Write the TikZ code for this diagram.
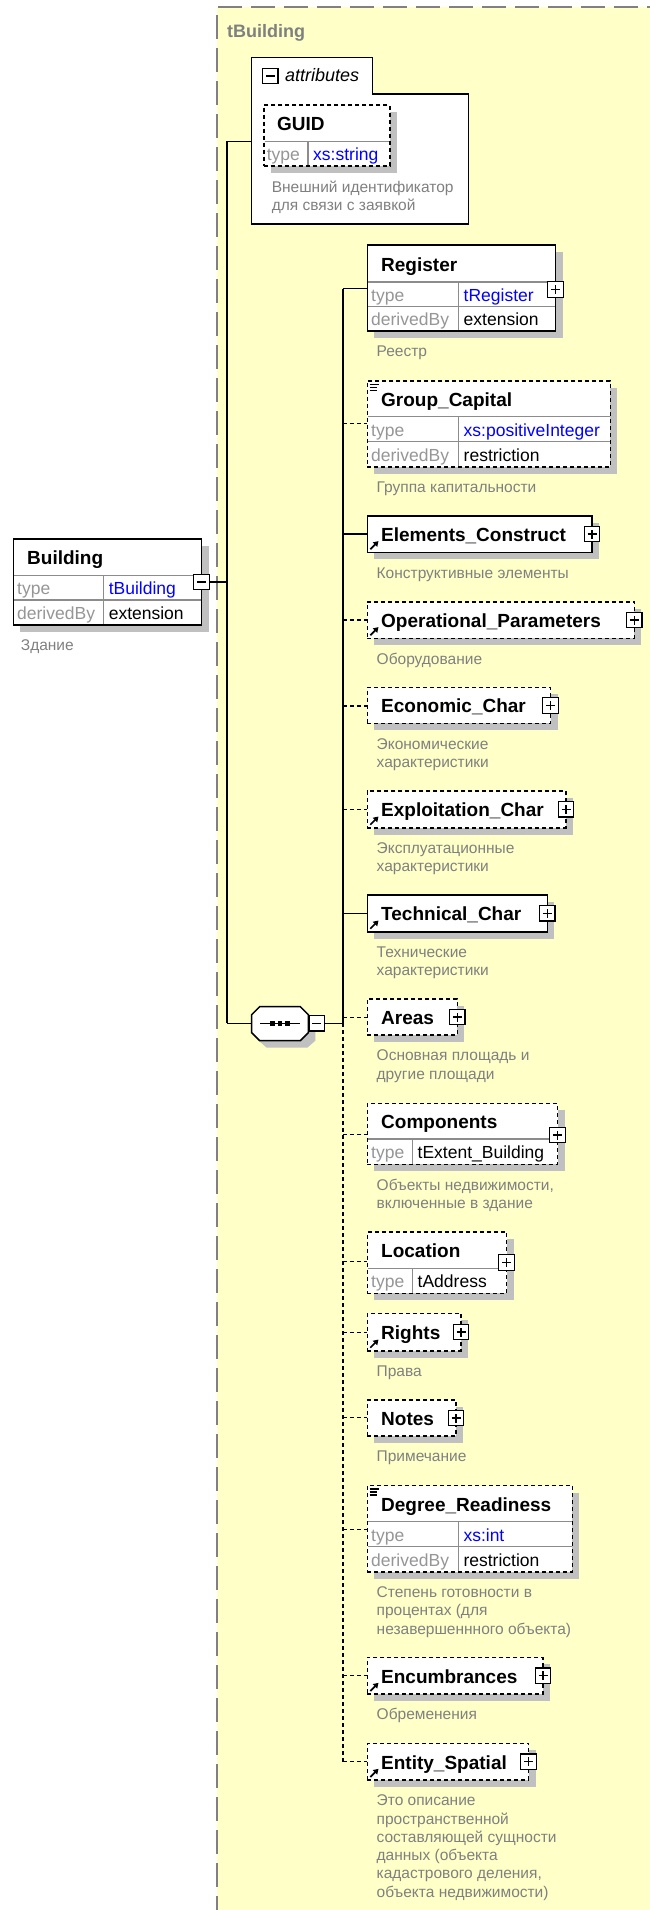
\documentclass[tikz,border=0pt]{standalone}
\usepackage{fontspec}
\setmainfont{Liberation Sans}
\usetikzlibrary{arrows.meta}
\definecolor{bgyellow}{RGB}{255,255,200}
\definecolor{bordergray}{RGB}{128,128,128}
\definecolor{shadowc}{RGB}{192,192,192}
\definecolor{desccol}{RGB}{128,128,128}
\definecolor{labcol}{RGB}{150,150,150}
\definecolor{rowline}{RGB}{140,140,140}
\definecolor{linkblue}{RGB}{0,0,255}
\tikzset{
  elbox/.style={draw=black, fill=white, line width=1.6pt, inner sep=0pt, outer sep=0pt},
  optbox/.style={dash pattern=on 4pt off 3pt},
  conn/.style={line width=1.5pt, draw=black},
  optconn/.style={conn, dash pattern=on 4pt off 3pt},
  nametext/.style={font=\fontsize{19}{22}\selectfont\bfseries, inner sep=0pt, anchor=base west},
  labtext/.style={font=\fontsize{17.5}{20}\selectfont, text=labcol, inner sep=0pt, anchor=base west},
  valtext/.style={font=\fontsize{17.5}{20}\selectfont, inner sep=0pt, anchor=base west},
  desctext/.style={font=\fontsize{15.5}{18.3}\selectfont, text=desccol, inner sep=0pt, anchor=north west, align=left},
  pmbox/.style={draw=black, fill=white, line width=1.2pt, minimum size=15.5pt, inner sep=0pt},
  rowsep/.style={draw=rowline, line width=1.2pt},
  refarrow/.style={line width=1.7pt, -{Triangle[length=5pt,width=6pt]}},
}
\newcommand{\elshadow}[4]{\fill[shadowc] ({#1+7},{#2+7}) rectangle ({#3+7},{#4+7});}
\newcommand{\elrect}[6]{\elshadow{#3}{#4}{#5}{#6}%
  \node[elbox,#2,anchor=north west,minimum width={#5-#3},minimum height={#6-#4}] (#1) at (#3,#4) {};}
\newcommand{\plusbox}[3]{\node[pmbox] (#1) at (#2,#3) {};
  \draw[line width=1.2pt] ([xshift=-4.5pt]#1.center) -- ([xshift=4.5pt]#1.center) ([yshift=-4.5pt]#1.center) -- ([yshift=4.5pt]#1.center);}
\newcommand{\minusbox}[3]{\node[pmbox] (#1) at (#2,#3) {};
  \draw[line width=1.2pt] ([xshift=-4.5pt]#1.center) -- ([xshift=4.5pt]#1.center);}
\newcommand{\refmark}[1]{\draw[refarrow] (370.3,{#1-3}) -- (378.5,{#1-11.2});}
\newcommand{\listmark}[1]{\draw[line width=1.1pt] (369.5,{#1+3.5}) -- (378.5,{#1+3.5}) (369.5,{#1+6.5}) -- (377,{#1+6.5}) (369.5,{#1+9.5}) -- (377,{#1+9.5});}
% description: name, x, baseline of first line, text
\newcommand{\descn}[4]{\node[desctext] (#1) at (#2,{#3-12.81}) {\strut #4};}
\begin{document}
\begin{tikzpicture}[x=1pt,y=-1pt]
\useasboundingbox (0,0) rectangle (650,1910);
% type area
\fill[bgyellow] (216.8,7.3) rectangle (660,1920);
\draw[bordergray, line width=2pt, dash pattern=on 24pt off 9pt] (216.8,1920) -- (216.8,7.3) -- (660,7.3);
\node[font=\fontsize{18}{22}\selectfont\bfseries, text=bordergray, anchor=base west, inner sep=0pt] (tbl) at (227,37.5) {tBuilding};

% spine coordinates
\coordinate (sp1top) at (227.2,141.3);
\coordinate (sp1bot) at (227.2,1023.3);
\coordinate (sp2top) at (342.8,288.7);
\coordinate (sp2mid) at (342.8,1023.3);
\coordinate (sp2bot) at (342.8,1761.7);
\coordinate (attrin) at (251.7,141.3);
\coordinate (octw) at (251.7,1023.3);

% connectors
\draw[conn] (sp1top) -- (sp1bot);
\draw[conn] (sp1top) -- (attrin);
\draw[conn] (sp1bot) -- (octw);
\draw[conn] (sp2top) -- (sp2mid);
\draw[optconn] (sp2mid) -- (sp2bot);
\coordinate (c-reg) at (367.3,288.7);   \draw[conn] (sp2top) -- (c-reg);
\coordinate (c-grp) at (367.3,423.3);   \draw[optconn] (c-grp -| sp2top) -- (c-grp);
\coordinate (c-ele) at (367.3,534);     \draw[conn] (c-ele -| sp2top) -- (c-ele);
\coordinate (c-ope) at (367.3,620);     \draw[optconn] (c-ope -| sp2top) -- (c-ope);
\coordinate (c-eco) at (367.3,706);     \draw[optconn] (c-eco -| sp2top) -- (c-eco);
\coordinate (c-exp) at (367.3,809.5);   \draw[optconn] (c-exp -| sp2top) -- (c-exp);
\coordinate (c-tec) at (367.3,913.3);   \draw[conn] (c-tec -| sp2top) -- (c-tec);
\coordinate (c-are) at (367.3,1017.7);  \draw[optconn] (c-are -| sp2top) -- (c-are);
\coordinate (c-com) at (367.3,1134.3);  \draw[optconn] (c-com -| sp2top) -- (c-com);
\coordinate (c-loc) at (367.3,1261.7);  \draw[optconn] (c-loc -| sp2top) -- (c-loc);
\coordinate (c-rig) at (367.3,1332.3);  \draw[optconn] (c-rig -| sp2top) -- (c-rig);
\coordinate (c-not) at (367.3,1417.7);  \draw[optconn] (c-not -| sp2top) -- (c-not);
\coordinate (c-deg) at (367.3,1529.3);  \draw[optconn] (c-deg -| sp2top) -- (c-deg);
\coordinate (c-enc) at (367.3,1675.7);  \draw[optconn] (c-enc -| sp2top) -- (c-enc);
\coordinate (c-ent) at (367.3,1761.7);  \draw[optconn] (sp2bot) -- (c-ent);

% Building
\elrect{bld}{}{13.3}{539}{201.5}{625}
\draw[rowsep] (14.1,575.3) -- (200.7,575.3) (14.1,600) -- (200.7,600) (103.6,575.3) -- (103.6,624.2);
\node[nametext] (bld-n) at (27,564.7) {Building};
\node[labtext] (bld-l1) at (17,594.7) {type};
\node[valtext,text=linkblue] (bld-v1) at (108.6,594.7) {tBuilding};
\node[labtext] (bld-l2) at (17,619.5) {derivedBy};
\node[valtext] (bld-v2) at (108.6,619.5) {extension};
\minusbox{bldmin}{201.5}{582}
\draw[conn] (bldmin.east) -- (bldmin.east -| sp1top);
\descn{bld-d}{20.7}{650.7}{Здание}

% attributes
\draw[line width=1.5pt, fill=white] (251.7,57.3) -- (372.3,57.3) -- (372.3,94) -- (468.5,94) -- (468.5,224) -- (251.7,224) -- cycle;
\minusbox{attrmin}{270.3}{76}
\node[font=\fontsize{18}{22}\selectfont\itshape, anchor=base west, inner sep=0pt] (attrlbl) at (285,82) {attributes};
\elrect{guid}{optbox}{263.7}{105.3}{389.7}{166}
\draw[rowsep] (264.5,141.3) -- (388.9,141.3) (308,141.3) -- (308,165.2);
\node[nametext] (guid-n) at (277,130.8) {GUID};
\node[labtext] (guid-l1) at (266.6,160.6) {type};
\node[valtext,text=linkblue] (guid-v1) at (313,160.6) {xs:string};
\descn{guid-d}{271.6}{192.3}{Внешний идентификатор\\для связи с заявкой}

% sequence compositor
\fill[shadowc] (266.7,1013.7) -- (308.3,1013.7) -- (315.3,1020.7) -- (315.3,1040.7) -- (307.3,1047.7) -- (266.7,1047.7) -- (258.7,1040.7) -- (258.7,1020.7) -- cycle;
\draw[line width=1.5pt, fill=white] (259.7,1006.7) -- (300.3,1006.7) -- (308.3,1014.7) -- (308.3,1032.7) -- (300.3,1040.7) -- (259.7,1040.7) -- (251.7,1032.7) -- (251.7,1014.7) -- cycle;
\draw[line width=1.2pt] (260,1023.3) -- (300,1023.3);
\foreach \dx in {272.5,280,287.5} \fill (\dx-2.3,1021) rectangle (\dx+2.3,1025.6);
\minusbox{seqmin}{316.7}{1023.3}
\draw[conn] (seqmin.east) -- (sp2mid);

% Register
\elrect{reg}{}{367.3}{245.3}{555.6}{330.7}
\draw[rowsep] (368.1,282) -- (554.8,282) (368.1,306.7) -- (554.8,306.7) (458.5,282) -- (458.5,329.9);
\node[nametext] (reg-n) at (381,271.2) {Register};
\node[labtext] (reg-l1) at (371,301.4) {type};
\node[valtext,text=linkblue] (reg-v1) at (463.5,301.4) {tRegister};
\node[labtext] (reg-l2) at (371,325.7) {derivedBy};
\node[valtext] (reg-v2) at (463.5,325.7) {extension};
\plusbox{reg-p}{555.6}{289.5}
\descn{reg-d}{376.5}{356.2}{Реестр}

% Group_Capital
\elrect{grp}{optbox}{367.3}{380.7}{610.3}{466.7}
\draw[rowsep] (368.1,416.7) -- (609.5,416.7) (368.1,441.7) -- (609.5,441.7) (458.5,416.7) -- (458.5,465.9);
\listmark{380.7}
\node[nametext] (grp-n) at (381,406.2) {Group\_Capital};
\node[labtext] (grp-l1) at (371,436.2) {type};
\node[valtext,text=linkblue] (grp-v1) at (463.5,436.2) {xs:positiveInteger};
\node[labtext] (grp-l2) at (371,461.2) {derivedBy};
\node[valtext] (grp-v2) at (463.5,461.2) {restriction};
\descn{grp-d}{376.5}{492.2}{Группа капитальности}

% Elements_Construct
\elrect{ele}{}{367.3}{515.7}{592}{552.3}
\node[nametext] (ele-n) at (381,541.5) {Elements\_Construct};
\plusbox{ele-p}{592}{534}
\refmark{552.3}
\descn{ele-d}{376.5}{577.8}{Конструктивные элементы}

% Operational_Parameters
\elrect{ope}{optbox}{367.3}{601.7}{634.3}{638.3}
\node[nametext] (ope-n) at (381,627.5) {Operational\_Parameters};
\plusbox{ope-p}{634.3}{620}
\refmark{638.3}
\descn{ope-d}{376.5}{663.8}{Оборудование}

% Economic_Char
\elrect{eco}{optbox}{367.3}{687.3}{550.6}{723.3}
\node[nametext] (eco-n) at (381,712.8) {Economic\_Char};
\plusbox{eco-p}{550.6}{705.5}
\descn{eco-d}{376.5}{748.8}{Экономические\\характеристики}

% Exploitation_Char
\elrect{exp}{optbox}{367.3}{791}{566}{827.7}
\node[nametext] (exp-n) at (381,816.9) {Exploitation\_Char};
\plusbox{exp-p}{566}{809.3}
\refmark{827.7}
\descn{exp-d}{376.5}{853.2}{Эксплуатационные\\характеристики}

% Technical_Char
\elrect{tec}{}{367.3}{895}{547.3}{931.7}
\node[nametext] (tec-n) at (381,920.9) {Technical\_Char};
\plusbox{tec-p}{547.3}{913.3}
\refmark{931.7}
\descn{tec-d}{376.5}{957.2}{Технические\\характеристики}

% Areas
\elrect{are}{optbox}{367.3}{999}{457.3}{1035}
\node[nametext] (are-n) at (381,1024.5) {Areas};
\plusbox{are-p}{457.3}{1017}
\descn{are-d}{376.5}{1060.5}{Основная площадь и\\другие площади}

% Components
\elrect{com}{optbox}{367.3}{1103.3}{557.6}{1164.3}
\draw[rowsep] (368.1,1139) -- (556.8,1139) (412.5,1139) -- (412.5,1163.5);
\node[nametext] (com-n) at (381,1128.7) {Components};
\node[labtext] (com-l1) at (371,1158.7) {type};
\node[valtext] (com-v1) at (417.5,1158.7) {tExtent\_Building};
\plusbox{com-p}{557.6}{1135}
\descn{com-d}{376.5}{1189.8}{Объекты недвижимости,\\включенные в здание}

% Location
\elrect{loc}{optbox}{367.3}{1231.7}{506.6}{1293.3}
\draw[rowsep] (368.1,1268.3) -- (505.8,1268.3) (412.5,1268.3) -- (412.5,1292.5);
\node[nametext] (loc-n) at (381,1257.5) {Location};
\node[labtext] (loc-l1) at (371,1287.8) {type};
\node[valtext] (loc-v1) at (417.5,1287.8) {tAddress};
\plusbox{loc-p}{506.6}{1262.5}

% Rights
\elrect{rig}{optbox}{367.3}{1313.3}{461}{1350.7}
\node[nametext] (rig-n) at (381,1339.5) {Rights};
\plusbox{rig-p}{461}{1332}
\refmark{1350.7}
\descn{rig-d}{376.5}{1376.2}{Права}

% Notes
\elrect{not}{optbox}{367.3}{1400}{456}{1436}
\node[nametext] (not-n) at (381,1425.5) {Notes};
\plusbox{not-p}{456}{1418}
\descn{not-d}{376.5}{1461.5}{Примечание}

% Degree_Readiness
\elrect{deg}{optbox}{367.3}{1485.5}{572.3}{1571.7}
\draw[rowsep] (368.1,1521.7) -- (571.5,1521.7) (368.1,1546.7) -- (571.5,1546.7) (458.3,1521.7) -- (458.3,1570.9);
\listmark{1485.5}
\node[nametext] (deg-n) at (381,1511.1) {Degree\_Readiness};
\node[labtext] (deg-l1) at (371,1541.2) {type};
\node[valtext,text=linkblue] (deg-v1) at (463.3,1541.2) {xs:int};
\node[labtext] (deg-l2) at (371,1566.2) {derivedBy};
\node[valtext] (deg-v2) at (463.3,1566.2) {restriction};
\descn{deg-d}{376.5}{1597.2}{Степень готовности в\\процентах (для\\незавершеннного объекта)}

% Encumbrances
\elrect{enc}{optbox}{367.3}{1657.3}{543}{1694}
\node[nametext] (enc-n) at (381,1683.2) {Encumbrances};
\plusbox{enc-p}{543}{1675.7}
\refmark{1694}
\descn{enc-d}{376.5}{1719.5}{Обременения}

% Entity_Spatial
\elrect{ent}{optbox}{367.3}{1743.3}{528.6}{1780}
\node[nametext] (ent-n) at (381,1769.2) {Entity\_Spatial};
\plusbox{ent-p}{528.6}{1761.7}
\refmark{1780}
\descn{ent-d}{376.5}{1805.5}{Это описание\\пространственной\\составляющей сущности\\данных (объекта\\кадастрового деления,\\объекта недвижимости)}
\end{tikzpicture}
\end{document}
